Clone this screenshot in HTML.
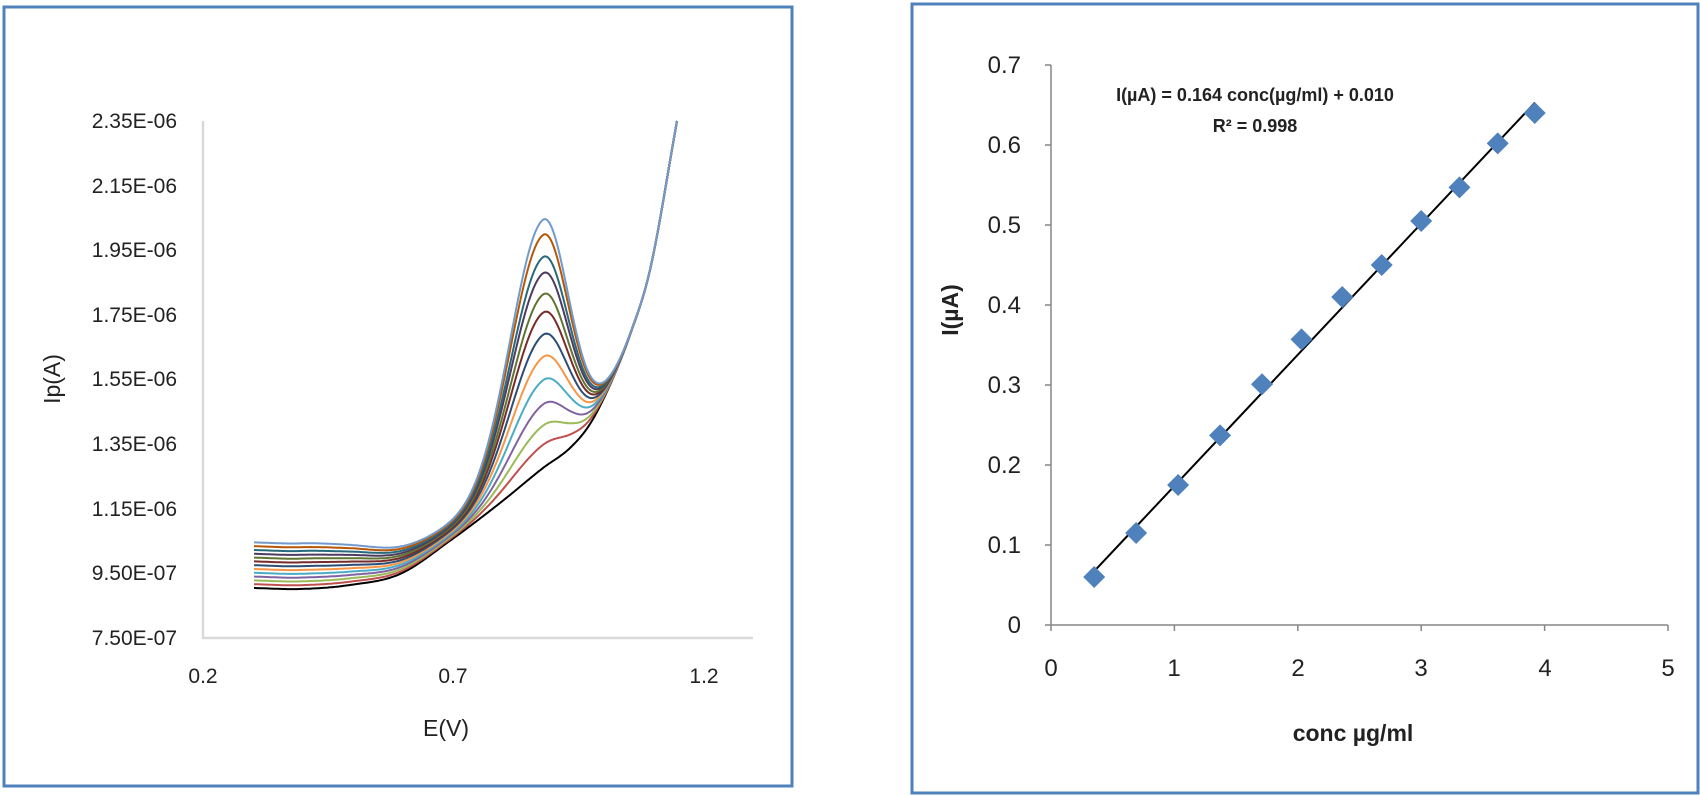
<!DOCTYPE html>
<html><head><meta charset="utf-8"><style>
html,body{margin:0;padding:0;background:#fff;}
svg{display:block;}
text{font-family:"Liberation Sans",sans-serif;}
</style></head><body>
<svg id="s" width="1700" height="796" xmlns="http://www.w3.org/2000/svg">
<rect x="4" y="7" width="788" height="779" fill="none" stroke="#4f81bd" stroke-width="3"/>
<rect x="912" y="4" width="786" height="789" fill="none" stroke="#4f81bd" stroke-width="3"/>
<line x1="203" y1="121" x2="203" y2="639" stroke="#d9d9d9" stroke-width="2.5"/>
<line x1="202" y1="638" x2="753" y2="638" stroke="#d9d9d9" stroke-width="2.5"/>
<g font-size="21" fill="#222" text-anchor="end">
<text x="177" y="128">2.35E-06</text>
<text x="177" y="193">2.15E-06</text>
<text x="177" y="257">1.95E-06</text>
<text x="177" y="322">1.75E-06</text>
<text x="177" y="386">1.55E-06</text>
<text x="177" y="451">1.35E-06</text>
<text x="177" y="516">1.15E-06</text>
<text x="177" y="580">9.50E-07</text>
<text x="177" y="645">7.50E-07</text>
</g>
<g font-size="21" fill="#222" text-anchor="middle">
<text x="203" y="683">0.2</text>
<text x="453" y="683">0.7</text>
<text x="704" y="683">1.2</text>
<text x="446" y="736" font-size="23">E(V)</text>
<text transform="translate(60,379) rotate(-90)" font-size="23">Ip(A)</text>
</g>
<g id="curves" fill="none" stroke-width="2" stroke-linejoin="round"></g>
<line x1="1051" y1="65" x2="1051" y2="625" stroke="#868686" stroke-width="1.5"/>
<line x1="1051" y1="625" x2="1668" y2="625" stroke="#868686" stroke-width="1.5"/>
<g id="ticks" stroke="#868686" stroke-width="1.5"></g>
<g font-size="24" fill="#222" text-anchor="end">
<text x="1021" y="73">0.7</text>
<text x="1021" y="153">0.6</text>
<text x="1021" y="233">0.5</text>
<text x="1021" y="313">0.4</text>
<text x="1021" y="393">0.3</text>
<text x="1021" y="473">0.2</text>
<text x="1021" y="553">0.1</text>
<text x="1021" y="633">0</text>
</g>
<g font-size="24" fill="#222" text-anchor="middle">
<text x="1051" y="676">0</text>
<text x="1174" y="676">1</text>
<text x="1298" y="676">2</text>
<text x="1421" y="676">3</text>
<text x="1545" y="676">4</text>
<text x="1668" y="676">5</text>
</g>
<g font-weight="bold" fill="#222" text-anchor="middle">
<text x="1353" y="741" font-size="23">conc µg/ml</text>
<text transform="translate(958,310) rotate(-90)" font-size="23">I(µA)</text>
<text x="1255" y="101" font-size="18">I(µA) = 0.164 conc(µg/ml) + 0.010</text>
<text x="1255" y="132" font-size="18">R² = 0.998</text>
</g>
<line x1="1094" y1="571.4" x2="1535" y2="102.6" stroke="#000" stroke-width="2"/>
<g id="pts" fill="#4f81bd"></g>
</svg>
<script>
var NS="http://www.w3.org/2000/svg";
var P=[[254,588],[300,589],[350,585],[400,574],[451,540],[500,503],[543,468],[570,448],[590,424],[610,385],[630,335],[650,270],[677,121]];
var n=P.length,m=[];
for(var i=0;i<n;i++){
 if(i==0) m[i]=(P[1][1]-P[0][1])/(P[1][0]-P[0][0]);
 else if(i==n-1) m[i]=(P[n-1][1]-P[n-2][1])/(P[n-1][0]-P[n-2][0]);
 else m[i]=((P[i+1][1]-P[i][1])/(P[i+1][0]-P[i][0])+(P[i][1]-P[i-1][1])/(P[i][0]-P[i-1][0]))/2;
}
function bl(x){for(var i=0;i<n-1;i++){var a=P[i],b=P[i+1];if(x<=b[0]){var hh=b[0]-a[0],t=(x-a[0])/hh,t2=t*t,t3=t2*t;
 return (2*t3-3*t2+1)*a[1]+(t3-2*t2+t)*hh*m[i]+(-2*t3+3*t2)*b[1]+(t3-t2)*hh*m[i+1];}}return 121;}
var cols=["#000000","#c0504d","#9bbb59","#8064a2","#4bacc6","#f79646","#2c4d75","#772c2a","#5f7530","#4d3b62","#276a7c","#b65708","#729aca"];
var pk=[466,445,426,405,381,358,336,314,296,275,259,237,222];
var g=document.getElementById("curves");
for(var k=0;k<13;k++){
 var h=468-pk[k];if(k==0)h=0;var d="";
 for(var x=254;x<=677;x+=1.5){
  var u=Math.max(0,x-300)/140;
  var w=Math.exp(-u*u);
  var s=x<543?33:26;
  var y=bl(x)-k*3.8*w-h*Math.exp(-(x-543)*(x-543)/(2*s*s));
  d+=(x==254?"M":"L")+x+","+y.toFixed(1);
 }
 var p=document.createElementNS(NS,"path");p.setAttribute("d",d);p.setAttribute("stroke",cols[k]);g.appendChild(p);
}
var t=document.getElementById("ticks");
for(var i=0;i<=7;i++){var l=document.createElementNS(NS,"line");var y=625-80*i;l.setAttribute("x1",1045);l.setAttribute("x2",1051);l.setAttribute("y1",y);l.setAttribute("y2",y);t.appendChild(l);}
for(var i=0;i<=5;i++){var l=document.createElementNS(NS,"line");var x=1051+123.4*i;l.setAttribute("x1",x);l.setAttribute("x2",x);l.setAttribute("y1",625);l.setAttribute("y2",631);t.appendChild(l);}
var xs=[0.35,0.69,1.03,1.37,1.71,2.03,2.36,2.68,3.0,3.31,3.62,3.92];
var ys=[0.06,0.115,0.175,0.237,0.301,0.357,0.41,0.45,0.505,0.547,0.602,0.64];
var pg=document.getElementById("pts");
for(var i=0;i<xs.length;i++){var cx=1051+123.4*xs[i],cy=625-800*ys[i];var q=document.createElementNS(NS,"polygon");
q.setAttribute("points",(cx)+","+(cy-11)+" "+(cx+11)+","+cy+" "+cx+","+(cy+11)+" "+(cx-11)+","+cy);pg.appendChild(q);}
</script>
</body></html>
